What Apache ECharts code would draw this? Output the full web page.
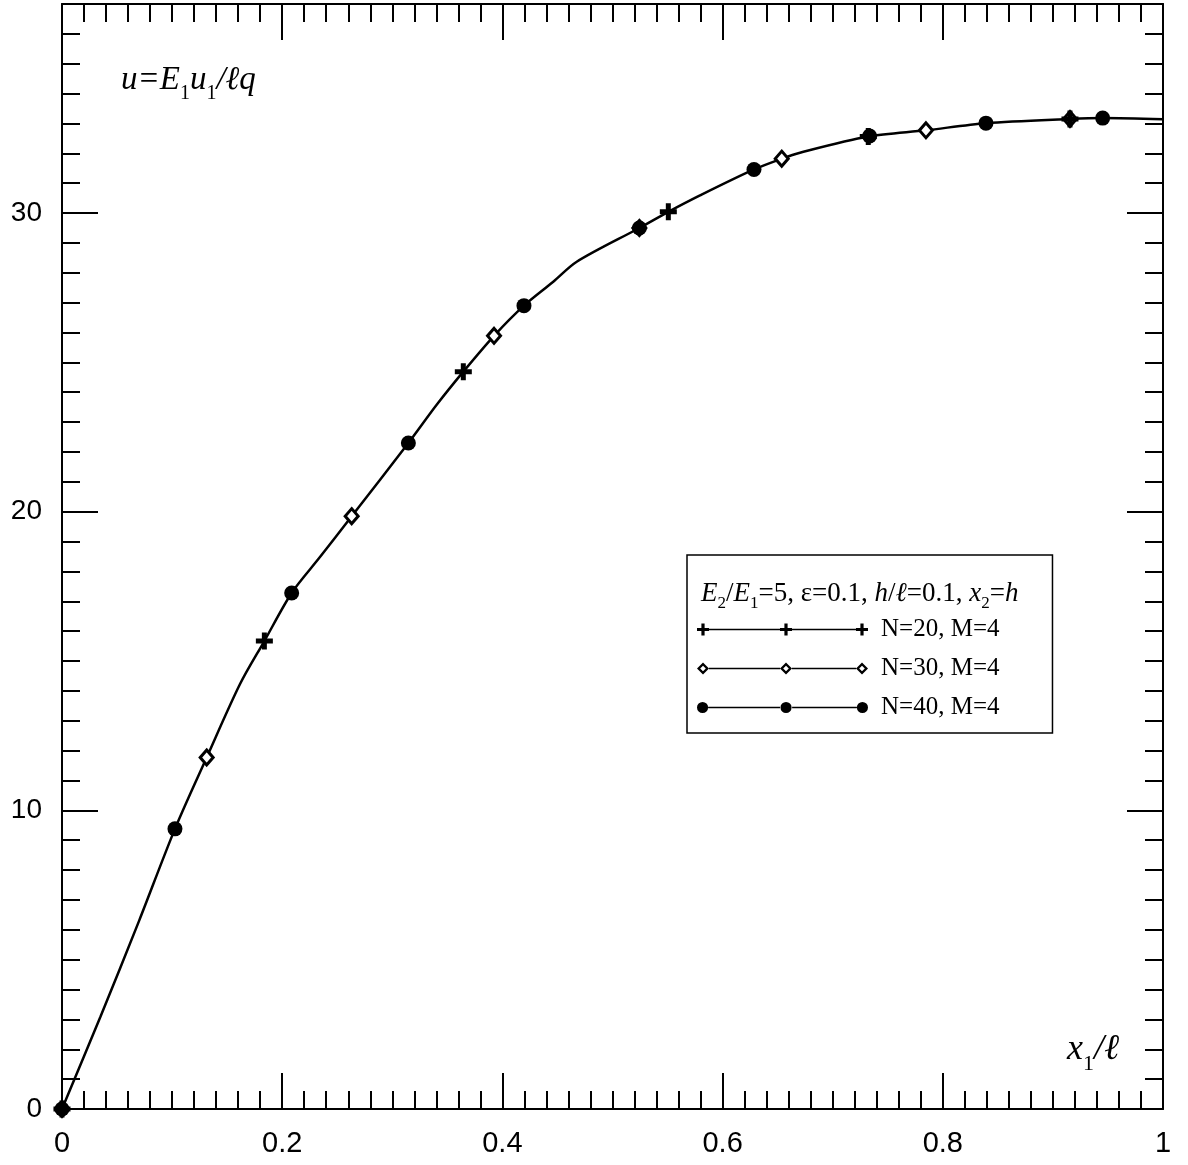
<!DOCTYPE html>
<html>
<head>
<meta charset="utf-8">
<script src="https://cdn.jsdelivr.net/npm/echarts@6/dist/echarts.min.js"></script>
<style>
html,body{margin:0;padding:0;background:#fff;}
#chart{width:1188px;height:1165px;}
</style>
</head>
<body>
<div id="chart"></div>
<script>
// ---- data ----
const curvePoints = [[0,0],[0.035,3.1],[0.07,6.3],[0.1026,9.38],[0.1314,11.77],[0.1617,14.23],[0.1838,15.67],[0.2086,17.28],[0.2343,18.48],[0.2631,19.85],[0.3146,22.30],[0.3403,23.58],[0.3645,24.69],[0.3924,25.89],[0.4196,26.90],[0.4462,27.70],[0.4675,28.37],[0.5244,29.50],[0.5507,30.04],[0.5795,30.59],[0.6285,31.46],[0.6537,31.82],[0.6703,32.02],[0.7323,32.56],[0.7847,32.77],[0.8392,33.01],[0.9155,33.15],[0.9452,33.18],[1.0,33.14]];
const n20Points = [[0,0],[0.1838,15.67],[0.3645,24.69],[0.5507,30.04],[0.7323,32.56],[0.9155,33.15]];
const n30Points = [[0,0],[0.1314,11.77],[0.2631,19.85],[0.3924,25.89],[0.5244,29.50],[0.6537,31.82],[0.7847,32.77],[0.9155,33.15]];
const n40Points = [[0,0],[0.1026,9.38],[0.2086,17.28],[0.3146,22.30],[0.4196,26.90],[0.5244,29.50],[0.6285,31.46],[0.7335,32.58],[0.8392,33.01],[0.9452,33.18]];
const seriesNames = ['N=20, M=4','N=30, M=4','N=40, M=4'];
const xTickValues = [0,0.2,0.4,0.6,0.8,1];
const xTickLabels = ['0','0.2','0.4','0.6','0.8','1'];
const yTickValues = [0,10,20,30];
const yTickLabels = ['0','10','20','30'];

function tickLabel(values, labels){
  return function(v){
    for (let i=0;i<values.length;i++){ if (Math.abs(values[i]-v)<1e-6) return labels[i]; }
    return '';
  };
}

// legend icons: line with three markers
function crossAt(cx){ return 'M'+(cx-1.6)+',0H'+(cx+1.6)+'V4.4H'+(cx+6)+'V7.6H'+(cx+1.6)+'V12H'+(cx-1.6)+'V7.6H'+(cx-6)+'V4.4H'+(cx-1.6)+'Z'; }
function diamondAt(cx){ return 'M'+cx+',0L'+(cx+6)+',6L'+cx+',12L'+(cx-6)+',6Z'+'M'+cx+',3.2L'+(cx-2.8)+',6L'+cx+',8.8L'+(cx+2.8)+',6Z'; }
function circleAt(cx){ return 'M'+(cx-5.5)+',6A5.5,5.5 0 1,1 '+(cx+5.5)+',6A5.5,5.5 0 1,1 '+(cx-5.5)+',6Z'; }
function seg(a,b){ return 'M'+a+',5.2H'+b+'V6.8H'+a+'Z'; }
const lineSegs = seg(6,89)+seg(89,165);
const lineSegsGap = seg(12,83)+seg(95,159);
const iconCross = 'path://'+lineSegs+crossAt(6)+crossAt(89)+crossAt(165);
const iconDiamond = 'path://'+lineSegsGap+diamondAt(6)+diamondAt(89)+diamondAt(165);
const iconCircle = 'path://'+lineSegsGap+circleAt(6.5)+circleAt(89)+circleAt(164.5);

const crossSymbol = 'path://M6,0H11V6H17V11H11V17H6V11H0V6H6Z';

const serif = 'Liberation Serif';
const sans = 'Liberation Sans';
const tickCol = '#000';

const chart = echarts.init(document.getElementById('chart'), null, {renderer:'canvas'});

function xAx(pos, showLabel){
  return {
    type:'value', position:pos, min:0, max:1, interval:0.2,
    axisLine:{show:true, onZero:false, lineStyle:{color:'#000', width:2}},
    axisTick:{show:true, inside:true, length:36, lineStyle:{color:tickCol, width:2}},
    minorTick:{show:true, splitNumber:10, length:18, lineStyle:{color:tickCol, width:2}},
    splitLine:{show:false}, minorSplitLine:{show:false},
    axisLabel:{show:showLabel, margin:20, color:'#000', fontFamily:sans, fontSize:29,
      formatter: tickLabel(xTickValues, xTickLabels)}
  };
}
function yAx(pos, interval, len, showLabel, showLine){
  return {
    type:'value', position:pos, min:0, max:37, interval:interval,
    axisLine:{show:showLine, onZero:false, lineStyle:{color:'#000', width:2}},
    axisTick:{show:true, inside:true, length:len, lineStyle:{color:tickCol, width:2}},
    splitLine:{show:false},
    axisLabel:{show:showLabel, margin:20, color:'#000', fontFamily:sans, fontSize:28,
      showMaxLabel:false, formatter: tickLabel(yTickValues, yTickLabels)}
  };
}

const richBase = {
  i:{fontFamily:serif, fontStyle:'italic', fontWeight:'normal', fontSize:33, color:'#000', padding:[0,0,7,0], verticalAlign:'bottom'},
  s:{fontFamily:serif, fontWeight:'normal', fontSize:20, color:'#000', verticalAlign:'bottom'}
};
const richAxis = {
  i:{fontFamily:serif, fontStyle:'italic', fontWeight:'normal', fontSize:36, color:'#000', padding:[0,0,7,0], verticalAlign:'bottom'},
  s:{fontFamily:serif, fontWeight:'normal', fontSize:22, color:'#000', verticalAlign:'bottom'}
};
const richLeg = {
  i:{fontFamily:serif, fontStyle:'italic', fontWeight:'normal', fontSize:27, color:'#000', padding:[0,0,5,0], verticalAlign:'bottom'},
  r:{fontFamily:serif, fontWeight:'normal', fontSize:27, color:'#000', padding:[0,0,5,0], verticalAlign:'bottom'},
  s:{fontFamily:serif, fontWeight:'normal', fontSize:17, color:'#000', verticalAlign:'bottom'}
};

const option = {
  animation:false,
  backgroundColor:'#fff',
  grid:{left:62, right:25, top:4, bottom:56, containLabel:false},
  title:[
    {text:'{i|u=E}{s|1}{i|u}{s|1}{i|/ℓq}', left:121, top:64, padding:0, textStyle:{fontWeight:'normal', rich:richBase}},
    {text:'{i|x}{s|1}{i|/ℓ}', left:1067, top:1032, padding:0, textStyle:{fontWeight:'normal', rich:richAxis}},
    {text:'{i|E}{s|2}{r|/}{i|E}{s|1}{r|=5, ε=0.1, }{i|h}{r|/}{i|ℓ}{r|=0.1, }{i|x}{s|2}{r|=}{i|h}', left:701, top:580, padding:0, textStyle:{fontWeight:'normal', rich:richLeg}}
  ],
  legend:{
    orient:'vertical', left:687, top:555,
    padding:[62,53,13,10],
    borderColor:'#000', borderWidth:1.5,
    itemWidth:171, itemHeight:12, itemGap:14,
    selectedMode:false,
    textStyle:{fontFamily:serif, fontSize:25, color:'#000', lineHeight:24, padding:[0,0,0,8]},
    data:[
      {name:seriesNames[0], icon:iconCross, itemStyle:{color:'#000', borderWidth:0, opacity:1}},
      {name:seriesNames[1], icon:iconDiamond, itemStyle:{color:'#000', borderWidth:0, opacity:1}},
      {name:seriesNames[2], icon:iconCircle, itemStyle:{color:'#000', borderWidth:0, opacity:1}}
    ]
  },
  xAxis:[xAx('bottom', true), xAx('top', false)],
  yAxis:[
    yAx('left', 10, 36, true, true),
    yAx('left', 1, 18, false, false),
    yAx('right', 10, 36, false, true),
    yAx('right', 1, 18, false, false)
  ],
  series:[
    {name:'curve', type:'line', xAxisIndex:0, yAxisIndex:0, data:curvePoints, smooth:0.3,
     symbol:'none', lineStyle:{color:'#000', width:2.5}, z:2, silent:true},
    {name:seriesNames[0], type:'scatter', xAxisIndex:0, yAxisIndex:0, data:n20Points, symbol:crossSymbol, symbolSize:17,
     itemStyle:{color:'#000', opacity:1}, z:4},
    {name:seriesNames[1], type:'scatter', xAxisIndex:0, yAxisIndex:0, data:n30Points, symbol:'diamond', symbolSize:[13,15],
     itemStyle:{color:'#fff', borderColor:'#000', borderWidth:3, opacity:1}, z:3},
    {name:seriesNames[2], type:'scatter', xAxisIndex:0, yAxisIndex:0, data:n40Points, symbol:'circle', symbolSize:15,
     itemStyle:{color:'#000', opacity:1}, z:5}
  ]
};
chart.setOption(option);
</script>
</body>
</html>
